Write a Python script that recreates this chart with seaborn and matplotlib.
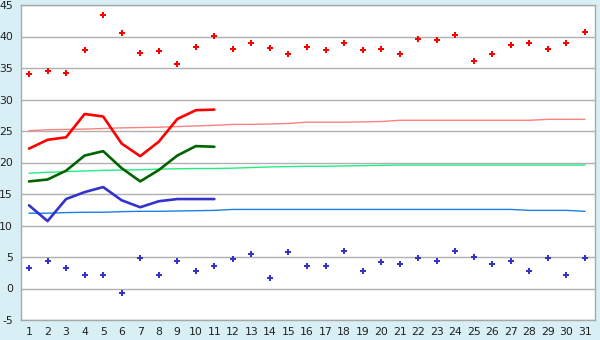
import numpy as np
import pandas as pd
import matplotlib
matplotlib.use("Agg")
import matplotlib.pyplot as plt
import seaborn as sns

days = list(range(1, 32))
max_points = [34.0, 34.5, 34.2, 37.8, 43.4, 40.5, 37.4, 37.7, 35.6, 38.3,
              40.1, 38.0, 39.0, 38.2, 37.2, 38.3, 37.8, 39.0, 37.8, 38.0,
              37.2, 39.6, 39.4, 40.2, 36.1, 37.2, 38.6, 39.0, 38.0, 39.0, 40.7]
min_points = [3.3, 4.4, 3.3, 2.2, 2.2, -0.7, 4.9, 2.2, 4.4, 2.8,
              3.6, 4.7, 5.5, 1.7, 5.8, 3.6, 3.6, 6.0, 2.8, 4.25,
              3.9, 4.9, 4.4, 6.0, 5.05, 3.9, 4.4, 2.8, 4.9, 2.2, 4.9]
line_days = list(range(1, 12))
max_line = [22.2, 23.6, 24.0, 27.7, 27.3, 23.0, 21.0, 23.3, 26.9, 28.3, 28.4]
mean_line = [17.0, 17.3, 18.7, 21.1, 21.8, 19.1, 17.0, 18.8, 21.1, 22.6, 22.5]
min_line = [13.2, 10.7, 14.2, 15.3, 16.1, 14.0, 12.9, 13.85, 14.2, 14.2, 14.2]
norm_max = [25.05, 25.2, 25.25, 25.3, 25.4, 25.5, 25.55, 25.6, 25.7, 25.8,
            25.9, 26.05, 26.05, 26.1, 26.2, 26.4, 26.4, 26.4, 26.45, 26.5,
            26.7, 26.7, 26.7, 26.7, 26.7, 26.7, 26.7, 26.7, 26.85, 26.85, 26.85]
norm_mean = [18.3, 18.45, 18.55, 18.65, 18.75, 18.8, 18.85, 18.95, 19.0, 19.05,
             19.05, 19.1, 19.2, 19.3, 19.35, 19.4, 19.4, 19.45, 19.5, 19.55,
             19.6, 19.6, 19.6, 19.6, 19.6, 19.6, 19.6, 19.6, 19.6, 19.6, 19.6]
norm_min = [11.95, 11.95, 12.05, 12.1, 12.1, 12.2, 12.25, 12.25, 12.3, 12.35,
            12.4, 12.55, 12.55, 12.55, 12.55, 12.55, 12.55, 12.55, 12.55, 12.55,
            12.55, 12.55, 12.55, 12.55, 12.55, 12.55, 12.55, 12.4, 12.4, 12.4, 12.25]
y_ticks = [-5, 0, 5, 10, 15, 20, 25, 30, 35, 40, 45]

sns.set_style("white")
plt.rcParams['font.family'] = ['DejaVu Sans']

df_pts = pd.DataFrame({"day": days, "tmax": max_points, "tmin": min_points,
                       "nmax": norm_max, "nmean": norm_mean, "nmin": norm_min})
df_line = pd.DataFrame({"day": line_days, "max": max_line, "mean": mean_line, "min": min_line})

bg = "#d8eff6"
fig = plt.figure(figsize=(6, 3.4), dpi=100, facecolor=bg)
ax = fig.add_axes([20.5/600, 1-320/340, 574.5/600, 315/340])
ax.set_facecolor("white")

for y in y_ticks:
    ax.axhline(y, color="#b0b0b0", lw=1, zorder=0)

sns.lineplot(data=df_pts, x="day", y="nmax", ax=ax, color="#ff8080", lw=1, zorder=2)
sns.lineplot(data=df_pts, x="day", y="nmean", ax=ax, color="#20ee80", lw=1, zorder=2)
sns.lineplot(data=df_pts, x="day", y="nmin", ax=ax, color="#1a7fe6", lw=1, zorder=2)
sns.lineplot(data=df_line, x="day", y="max", ax=ax, color="#ff0000", lw=1.9, zorder=3)
sns.lineplot(data=df_line, x="day", y="mean", ax=ax, color="#006400", lw=1.9, zorder=3)
sns.lineplot(data=df_line, x="day", y="min", ax=ax, color="#3333cc", lw=1.9, zorder=3)
sns.scatterplot(data=df_pts, x="day", y="tmax", ax=ax, color="#ff0000", marker="P",
                s=20, linewidth=0, zorder=4)
sns.scatterplot(data=df_pts, x="day", y="tmin", ax=ax, color="#3333cc", marker="P",
                s=20, linewidth=0, zorder=4)

ax.set_xlim(0.54, 31.54)
ax.set_ylim(-5, 45)
ax.set_xticks(days)
ax.set_xticklabels([str(d) for d in days])
ax.set_yticks(y_ticks)
ax.set_yticklabels([str(v) for v in y_ticks])
ax.set_xlabel("")
ax.set_ylabel("")
for s in ax.spines.values():
    s.set_color("#a8a8a8")
    s.set_linewidth(1)
ax.tick_params(axis="both", direction="out", length=4, color="#505050", width=1,
               labelsize=7.8, labelcolor="#202020", pad=1.5)
ax.tick_params(axis="x", length=4, pad=1)

fig.savefig("out.png", dpi=100, facecolor=bg)
